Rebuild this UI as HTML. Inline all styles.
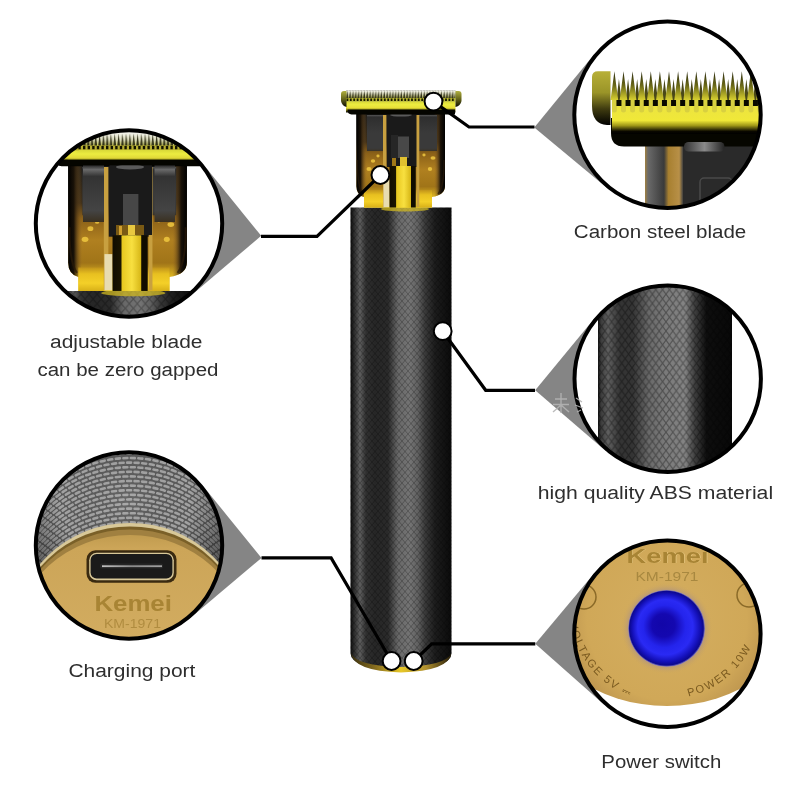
<!DOCTYPE html>
<html><head><meta charset="utf-8"><style>
html,body{margin:0;padding:0;background:#fff;width:800px;height:800px;overflow:hidden}
svg{display:block;will-change:transform}
text{font-family:"Liberation Sans",sans-serif}
</style></head><body>
<svg width="800" height="800" viewBox="0 0 800 800">
<defs>
<clipPath id="cTL"><circle cx="129" cy="223.5" r="93.2"/></clipPath>
<clipPath id="cBL"><circle cx="129" cy="545.5" r="93.2"/></clipPath>
<clipPath id="cTR"><circle cx="667.5" cy="114.7" r="93.2"/></clipPath>
<clipPath id="cMR"><circle cx="667.7" cy="378.8" r="93.2"/></clipPath>
<clipPath id="cBR"><circle cx="667.4" cy="633.8" r="93.2"/></clipPath>
<linearGradient id="gBody" x1="350" x2="452" y1="0" y2="0" gradientUnits="userSpaceOnUse">
<stop offset="0" stop-color="#050505"/>
<stop offset="0.02" stop-color="#1a1a1a"/>
<stop offset="0.098" stop-color="#5e5e5e"/>
<stop offset="0.157" stop-color="#303030"/>
<stop offset="0.245" stop-color="#262626"/>
<stop offset="0.373" stop-color="#2a2a2a"/>
<stop offset="0.471" stop-color="#686868"/>
<stop offset="0.588" stop-color="#747474"/>
<stop offset="0.667" stop-color="#606060"/>
<stop offset="0.735" stop-color="#3a3a3a"/>
<stop offset="0.833" stop-color="#1c1c1c"/>
<stop offset="1" stop-color="#0a0a0a"/>
</linearGradient>
<pattern id="knurl" width="6" height="7" patternUnits="userSpaceOnUse">
<path d="M0,0 L6,7 M6,0 L0,7" stroke="#000" stroke-opacity="0.28" stroke-width="0.9"/>
</pattern>
<linearGradient id="gFrame" x1="0" x2="0" y1="114" y2="207" gradientUnits="userSpaceOnUse">
<stop offset="0" stop-color="#1a1a1a"/>
<stop offset="0.3" stop-color="#3a2c18"/>
<stop offset="0.42" stop-color="#8a6018"/>
<stop offset="0.6" stop-color="#b08020"/>
<stop offset="0.78" stop-color="#a07418"/>
<stop offset="0.88" stop-color="#d8b020"/>
<stop offset="1" stop-color="#f0d020"/>
</linearGradient>
<linearGradient id="gCyl" x1="389.5" x2="415.75" y1="0" y2="0" gradientUnits="userSpaceOnUse">
<stop offset="0" stop-color="#100c00"/>
<stop offset="0.24" stop-color="#1a1400"/>
<stop offset="0.27" stop-color="#e8c820"/>
<stop offset="0.55" stop-color="#f8e040"/>
<stop offset="0.8" stop-color="#d8b818"/>
<stop offset="0.83" stop-color="#100c00"/>
<stop offset="1" stop-color="#100c00"/>
</linearGradient>
<linearGradient id="gCap" x1="0" x2="0" y1="91" y2="108" gradientUnits="userSpaceOnUse">
<stop offset="0" stop-color="#b0b040"/>
<stop offset="0.5" stop-color="#606018"/>
<stop offset="1" stop-color="#000"/>
</linearGradient>
<linearGradient id="gColL" x1="0" x2="0" y1="114" y2="152" gradientUnits="userSpaceOnUse">
<stop offset="0" stop-color="#6a6a6a"/><stop offset="0.08" stop-color="#2e2e2e"/><stop offset="0.5" stop-color="#3a3a3a"/><stop offset="0.9" stop-color="#3a3a3a"/><stop offset="1" stop-color="#3a3020"/>
</linearGradient>
<linearGradient id="gEdgeL" x1="356.4" x2="367" y1="0" y2="0" gradientUnits="userSpaceOnUse">
<stop offset="0" stop-color="#000"/><stop offset="0.4" stop-color="#1a1208"/><stop offset="1" stop-color="#9a6a28" stop-opacity="0"/>
</linearGradient>
<linearGradient id="gEdgeR" x1="445" x2="434" y1="0" y2="0" gradientUnits="userSpaceOnUse">
<stop offset="0" stop-color="#000"/><stop offset="0.4" stop-color="#1a1208"/><stop offset="1" stop-color="#9a6a28" stop-opacity="0"/>
</linearGradient>
<linearGradient id="gLeg" x1="0" x2="0" y1="188" y2="207.5" gradientUnits="userSpaceOnUse">
<stop offset="0" stop-color="#b08018"/><stop offset="0.35" stop-color="#e8c020"/><stop offset="0.7" stop-color="#f4d028"/><stop offset="1" stop-color="#d8b018"/>
</linearGradient>
<linearGradient id="gMR" x1="598" x2="732" y1="0" y2="0" gradientUnits="userSpaceOnUse">
<stop offset="0" stop-color="#141414"/>
<stop offset="0.022" stop-color="#3a3a3a"/>
<stop offset="0.075" stop-color="#606060"/>
<stop offset="0.164" stop-color="#343434"/>
<stop offset="0.26" stop-color="#343434"/>
<stop offset="0.38" stop-color="#6a6a6a"/>
<stop offset="0.5" stop-color="#7a7a7a"/>
<stop offset="0.649" stop-color="#848484"/>
<stop offset="0.72" stop-color="#404040"/>
<stop offset="0.81" stop-color="#0e0e0e"/>
<stop offset="1" stop-color="#080808"/>
</linearGradient>
<pattern id="knurl2" width="6.8" height="9.2" patternUnits="userSpaceOnUse" x="598" y="285">
<path d="M0,0 L6.8,9.2 M6.8,0 L0,9.2" stroke="#000" stroke-opacity="0.35" stroke-width="1.1"/>
</pattern>
<linearGradient id="gBarTR" x1="0" x2="0" y1="100" y2="134" gradientUnits="userSpaceOnUse">
<stop offset="0" stop-color="#d8d030"/>
<stop offset="0.2" stop-color="#ece440"/>
<stop offset="0.6" stop-color="#f0e838"/>
<stop offset="0.75" stop-color="#a09818"/>
<stop offset="0.92" stop-color="#0a0800"/>
<stop offset="1" stop-color="#000"/>
</linearGradient>
<linearGradient id="gCapTR" x1="0" x2="0" y1="71" y2="125" gradientUnits="userSpaceOnUse">
<stop offset="0" stop-color="#b8b038"/>
<stop offset="0.4" stop-color="#9a9428"/>
<stop offset="0.7" stop-color="#403c10"/>
<stop offset="1" stop-color="#000"/>
</linearGradient>
<linearGradient id="gToothTR" x1="0" x2="0" y1="71" y2="100" gradientUnits="userSpaceOnUse">
<stop offset="0" stop-color="#2a2a10"/>
<stop offset="0.5" stop-color="#6a6818"/>
<stop offset="1" stop-color="#d8d030"/>
</linearGradient>
<linearGradient id="gStripTR" x1="645" x2="683" y1="0" y2="0" gradientUnits="userSpaceOnUse">
<stop offset="0" stop-color="#a08040"/>
<stop offset="0.08" stop-color="#6a6a6a"/>
<stop offset="0.5" stop-color="#3a3a3a"/>
<stop offset="0.62" stop-color="#a88030"/>
<stop offset="0.9" stop-color="#b89048"/>
<stop offset="1" stop-color="#404040"/>
</linearGradient>
<linearGradient id="gCapsule" x1="684" x2="725" y1="0" y2="0" gradientUnits="userSpaceOnUse">
<stop offset="0" stop-color="#333"/><stop offset="0.5" stop-color="#8a8a8a"/><stop offset="1" stop-color="#222"/>
</linearGradient>
<radialGradient id="gKnurlBL" cx="125" cy="480" r="120" gradientUnits="userSpaceOnUse">
<stop offset="0" stop-color="#7a7a7a"/>
<stop offset="0.55" stop-color="#6e6e6e"/>
<stop offset="1" stop-color="#3a3a3a"/>
</radialGradient>
<pattern id="weave" width="7" height="8.4" patternUnits="userSpaceOnUse" x="0" y="0">
<ellipse cx="3.5" cy="2.1" rx="2.9" ry="1.5" fill="#d0d0d0" fill-opacity="0.6"/>
<ellipse cx="0" cy="6.3" rx="2.9" ry="1.5" fill="#d0d0d0" fill-opacity="0.6"/>
<ellipse cx="7" cy="6.3" rx="2.9" ry="1.5" fill="#d0d0d0" fill-opacity="0.6"/>
</pattern>
<linearGradient id="gGoldBL" x1="0" x2="0" y1="525" y2="640" gradientUnits="userSpaceOnUse">
<stop offset="0" stop-color="#b89448"/>
<stop offset="0.2" stop-color="#cca558"/>
<stop offset="1" stop-color="#d2ac60"/>
</linearGradient>
<radialGradient id="gGoldBR" cx="667" cy="620" r="100" gradientUnits="userSpaceOnUse">
<stop offset="0" stop-color="#d4ae60"/>
<stop offset="0.8" stop-color="#d0a858"/>
<stop offset="1" stop-color="#c09850"/>
</radialGradient>
<radialGradient id="gBlue" cx="666.6" cy="628.4" r="38.4" fx="662" fy="624" gradientUnits="userSpaceOnUse">
<stop offset="0" stop-color="#1206a8"/>
<stop offset="0.3" stop-color="#1408b0"/>
<stop offset="0.55" stop-color="#2424ec"/>
<stop offset="0.72" stop-color="#2a2af4"/>
<stop offset="0.88" stop-color="#1410b8"/>
<stop offset="0.96" stop-color="#0c0890"/>
<stop offset="1" stop-color="#8a80c0"/>
</radialGradient>
<radialGradient id="gGlow" cx="666.6" cy="628.4" r="46" gradientUnits="userSpaceOnUse">
<stop offset="0.8" stop-color="#a08a90" stop-opacity="0.7"/>
<stop offset="1" stop-color="#d0a858" stop-opacity="0"/>
</radialGradient>
<pattern id="teethP" width="2.85" height="8" patternUnits="userSpaceOnUse" x="346" y="90.5">
<path d="M0,8 L1.2,0.3 L2.4,8 Z" fill="#303018"/>
</pattern>
<linearGradient id="gTeethBg" x1="0" x2="0" y1="90.5" y2="98.5" gradientUnits="userSpaceOnUse">
<stop offset="0" stop-color="#f4f4ec"/><stop offset="0.5" stop-color="#d0d0b0"/><stop offset="1" stop-color="#c8c850"/>
</linearGradient>
<linearGradient id="gBarMain" x1="0" x2="0" y1="101.5" y2="114" gradientUnits="userSpaceOnUse">
<stop offset="0" stop-color="#d8d838"/><stop offset="0.25" stop-color="#ecec40"/><stop offset="0.5" stop-color="#e8e038"/><stop offset="0.68" stop-color="#8a8418"/><stop offset="0.85" stop-color="#0a0800"/><stop offset="1" stop-color="#000"/>
</linearGradient>
<linearGradient id="gSlot" x1="102" x2="162" y1="0" y2="0" gradientUnits="userSpaceOnUse">
<stop offset="0" stop-color="#c0c0c0"/><stop offset="0.5" stop-color="#8a8a8a"/><stop offset="1" stop-color="#a0a0a0"/>
</linearGradient>
<linearGradient id="gColTL" x1="0" x2="0" y1="165" y2="222" gradientUnits="userSpaceOnUse">
<stop offset="0" stop-color="#202020"/><stop offset="0.08" stop-color="#6a6a6a"/><stop offset="0.2" stop-color="#333"/><stop offset="0.8" stop-color="#444"/><stop offset="1" stop-color="#3a3020"/>
</linearGradient>
<pattern id="teethTL" width="3.8" height="13" patternUnits="userSpaceOnUse" x="60" y="133">
<path d="M0.2,13 L1.6,0.5 L3.0,13 Z" fill="#303018"/>
</pattern>
<linearGradient id="gTeethBgTL" x1="0" x2="0" y1="133" y2="146" gradientUnits="userSpaceOnUse">
<stop offset="0" stop-color="#f4f4ec"/><stop offset="0.55" stop-color="#d8d8b8"/><stop offset="1" stop-color="#c8c850"/>
</linearGradient>
<linearGradient id="gBarTL" x1="0" x2="0" y1="150" y2="160" gradientUnits="userSpaceOnUse">
<stop offset="0" stop-color="#d8d838"/><stop offset="0.4" stop-color="#ecec40"/><stop offset="0.8" stop-color="#e0d838"/><stop offset="1" stop-color="#8a8418"/>
</linearGradient>
<linearGradient id="gRim" x1="351" x2="451" y1="0" y2="0" gradientUnits="userSpaceOnUse">
<stop offset="0" stop-color="#3a3010"/><stop offset="0.25" stop-color="#8a7020"/><stop offset="0.5" stop-color="#e8c828"/><stop offset="0.75" stop-color="#b09030"/><stop offset="1" stop-color="#2a2008"/>
</linearGradient>
<radialGradient id="gShadeBL" cx="125" cy="500" r="110" gradientUnits="userSpaceOnUse">
<stop offset="0" stop-color="#fff" stop-opacity="0.08"/>
<stop offset="0.6" stop-color="#000" stop-opacity="0"/>
<stop offset="1" stop-color="#000" stop-opacity="0.45"/>
</radialGradient>

</defs>
<rect width="800" height="800" fill="#fff"/>
<g fill="#858585">
<polygon points="261.2,235.8 202.8,163.7 129,223.5 190.5,295.9"/>
<polygon points="261.5,557.9 202.7,485.6 129,545.5 190.3,618.1"/>
<polygon points="534.3,127.5 594.0,54.6 667.5,114.7 606.8,187.7"/>
<polygon points="535.2,390.3 594.3,318.4 667.7,378.8 605.8,450.9"/>
<polygon points="535.3,643.8 594.5,572.9 667.4,633.8 604.5,705.0"/>
</g>
<g id="trimmer">
<path d="M350.5,207.5 H451.5 V653 Q451.5,669 401,669 Q350.5,669 350.5,653 Z" fill="url(#gBody)"/>
<path d="M350.5,207.5 H451.5 V653 Q451.5,669 401,669 Q350.5,669 350.5,653 Z" fill="url(#knurl)"/>
<path d="M351,653 Q353,671 401,672.5 Q449,671 451.5,653 Q446,666 401,667 Q356,666 351,653 Z" fill="url(#gRim)"/>
<ellipse cx="405" cy="209" rx="24" ry="2.5" fill="#d0b820" opacity="0.75"/>
<path d="M356.4,114 H445 V186 Q445,195 432,197 V207.5 H364 V197 Q356.4,195 356.4,186 Z" fill="url(#gFrame)"/>
<path d="M356.4,114 H367 V186 L364,197 Q356.4,195 356.4,186 Z" fill="url(#gEdgeL)"/>
<path d="M445,114 H434 V186 L432,197 Q445,195 445,186 Z" fill="url(#gEdgeR)"/>
<rect x="367" y="115" width="16" height="36" fill="url(#gColL)"/>
<rect x="419" y="115" width="18" height="36" fill="url(#gColL)"/>
<rect x="386.6" y="114" width="30.4" height="53" fill="#1a1a1a"/>
<rect x="391" y="135" width="7" height="23" fill="#262626"/>
<rect x="398" y="136.5" width="11" height="21.5" fill="#484848"/>
<ellipse cx="401" cy="115" rx="11" ry="1.6" fill="#5a5a5a"/>
<g fill="#f0c840" opacity="0.85">
<ellipse cx="373" cy="161" rx="2.2" ry="1.8"/>
<ellipse cx="369" cy="169" rx="2.5" ry="2"/>
<ellipse cx="378" cy="156" rx="1.6" ry="1.4"/>
<ellipse cx="433" cy="158" rx="2.5" ry="1.8"/>
<ellipse cx="430" cy="169" rx="2.2" ry="2"/>
<ellipse cx="424" cy="155" rx="1.6" ry="1.4"/>
</g>
<path d="M357.5,160 Q357,186 363,194" fill="none" stroke="#2a1a08" stroke-width="1.5" opacity="0.7"/>
<path d="M444,160 Q444.5,186 438,194" fill="none" stroke="#2a1a08" stroke-width="1.5" opacity="0.7"/>
<rect x="364" y="190" width="19" height="17.5" fill="url(#gLeg)"/>
<rect x="416" y="190" width="16" height="17.5" fill="url(#gLeg)"/>
<rect x="383" y="115" width="3.4" height="92" fill="#c8a040"/>
<rect x="383.5" y="180" width="6" height="27" fill="#e8dcb0"/>
<rect x="416.5" y="115" width="2.8" height="92" fill="#c8a040"/>
<rect x="392" y="158" width="4" height="8" fill="#a07818"/>
<rect x="400" y="157" width="7" height="9" fill="#e0c030"/>
<rect x="389.5" y="166" width="26.25" height="41.5" fill="url(#gCyl)"/>
<rect x="346" y="101.5" width="109.5" height="11" fill="url(#gBarMain)"/>
<path d="M347.5,109.5 H455 V114.5 H351.5 Q347.5,114 347.5,110 Z" fill="#050500"/>
<rect x="346" y="90.5" width="109.5" height="8" fill="url(#gTeethBg)"/>
<rect x="346" y="90.5" width="109.5" height="8" fill="url(#teethP)"/>
<rect x="346" y="98" width="109.5" height="3.8" fill="#b8b830"/>
<path d="M346.50,98.6 h1.8 v2.4 h-1.8 Z M349.90,98.6 h1.8 v2.4 h-1.8 Z M353.30,98.6 h1.8 v2.4 h-1.8 Z M356.70,98.6 h1.8 v2.4 h-1.8 Z M360.10,98.6 h1.8 v2.4 h-1.8 Z M363.50,98.6 h1.8 v2.4 h-1.8 Z M366.90,98.6 h1.8 v2.4 h-1.8 Z M370.30,98.6 h1.8 v2.4 h-1.8 Z M373.70,98.6 h1.8 v2.4 h-1.8 Z M377.10,98.6 h1.8 v2.4 h-1.8 Z M380.50,98.6 h1.8 v2.4 h-1.8 Z M383.90,98.6 h1.8 v2.4 h-1.8 Z M387.30,98.6 h1.8 v2.4 h-1.8 Z M390.70,98.6 h1.8 v2.4 h-1.8 Z M394.10,98.6 h1.8 v2.4 h-1.8 Z M397.50,98.6 h1.8 v2.4 h-1.8 Z M400.90,98.6 h1.8 v2.4 h-1.8 Z M404.30,98.6 h1.8 v2.4 h-1.8 Z M407.70,98.6 h1.8 v2.4 h-1.8 Z M411.10,98.6 h1.8 v2.4 h-1.8 Z M414.50,98.6 h1.8 v2.4 h-1.8 Z M417.90,98.6 h1.8 v2.4 h-1.8 Z M421.30,98.6 h1.8 v2.4 h-1.8 Z M424.70,98.6 h1.8 v2.4 h-1.8 Z M428.10,98.6 h1.8 v2.4 h-1.8 Z M431.50,98.6 h1.8 v2.4 h-1.8 Z M434.90,98.6 h1.8 v2.4 h-1.8 Z M438.30,98.6 h1.8 v2.4 h-1.8 Z M441.70,98.6 h1.8 v2.4 h-1.8 Z M445.10,98.6 h1.8 v2.4 h-1.8 Z M448.50,98.6 h1.8 v2.4 h-1.8 Z M451.90,98.6 h1.8 v2.4 h-1.8 Z " fill="#1a1a00"/>
<path d="M341,94 Q341,91 344,91 H346.5 V107 Q342,106 341,101 Z" fill="url(#gCap)"/>
<path d="M461.5,94 Q461.5,91 458.5,91 H455.5 V107 Q460.5,106 461.5,101 Z" fill="url(#gCap)"/>
</g>
<g fill="none" stroke="#000" stroke-width="3.2" stroke-linejoin="miter">
<polyline points="261,236.3 317,236.3 380.4,175"/>
<polyline points="534.5,127 469,127 433.5,101.6"/>
<polyline points="535,390.3 485.7,390.3 442.7,331.2"/>
<polyline points="261.5,557.9 331.1,557.9 391.4,661"/>
<polyline points="535.3,643.8 431.8,643.8 413.7,661"/>
</g>
<g fill="#fff" stroke="#000" stroke-width="2">
<circle cx="380.4" cy="175" r="8.9"/>
<circle cx="433.5" cy="101.6" r="8.9"/>
<circle cx="442.7" cy="331.2" r="8.9"/>
<circle cx="391.6" cy="661" r="8.9"/>
<circle cx="413.7" cy="661" r="8.9"/>
</g>
<g clip-path="url(#cTL)">
<rect x="30" y="125" width="200" height="200" fill="#fff"/>
<use href="#trimmer" transform="translate(-409.4,12.9) scale(1.34)"/>
<rect x="83" y="165" width="21" height="57" fill="url(#gColTL)"/>
<rect x="154.5" y="165" width="20.5" height="57" fill="url(#gColTL)"/>
<rect x="109.5" y="165" width="42.5" height="70" fill="#1a1a1a"/>
<ellipse cx="130" cy="167" rx="14" ry="2.5" fill="#5a5a5a"/>
<rect x="123" y="194" width="15.4" height="31" fill="#474747"/>
<rect x="116" y="225" width="28" height="10" fill="#7a5a14"/>
<rect x="128" y="225" width="7" height="10" fill="#e8c840"/>
<rect x="119" y="226" width="3" height="9" fill="#d0a030"/>
<rect x="20" y="128" width="220" height="18" fill="url(#gTeethBgTL)"/>
<rect x="20" y="133" width="220" height="13" fill="url(#teethTL)"/>
<rect x="20" y="145.5" width="220" height="5" fill="#b8b030"/>
<path d="M60.00,146 h2.4 v3.2 h-2.4 Z M64.60,146 h2.4 v3.2 h-2.4 Z M69.20,146 h2.4 v3.2 h-2.4 Z M73.80,146 h2.4 v3.2 h-2.4 Z M78.40,146 h2.4 v3.2 h-2.4 Z M83.00,146 h2.4 v3.2 h-2.4 Z M87.60,146 h2.4 v3.2 h-2.4 Z M92.20,146 h2.4 v3.2 h-2.4 Z M96.80,146 h2.4 v3.2 h-2.4 Z M101.40,146 h2.4 v3.2 h-2.4 Z M106.00,146 h2.4 v3.2 h-2.4 Z M110.60,146 h2.4 v3.2 h-2.4 Z M115.20,146 h2.4 v3.2 h-2.4 Z M119.80,146 h2.4 v3.2 h-2.4 Z M124.40,146 h2.4 v3.2 h-2.4 Z M129.00,146 h2.4 v3.2 h-2.4 Z M133.60,146 h2.4 v3.2 h-2.4 Z M138.20,146 h2.4 v3.2 h-2.4 Z M142.80,146 h2.4 v3.2 h-2.4 Z M147.40,146 h2.4 v3.2 h-2.4 Z M152.00,146 h2.4 v3.2 h-2.4 Z M156.60,146 h2.4 v3.2 h-2.4 Z M161.20,146 h2.4 v3.2 h-2.4 Z M165.80,146 h2.4 v3.2 h-2.4 Z M170.40,146 h2.4 v3.2 h-2.4 Z M175.00,146 h2.4 v3.2 h-2.4 Z M179.60,146 h2.4 v3.2 h-2.4 Z M184.20,146 h2.4 v3.2 h-2.4 Z M188.80,146 h2.4 v3.2 h-2.4 Z M193.40,146 h2.4 v3.2 h-2.4 Z M198.00,146 h2.4 v3.2 h-2.4 Z " fill="#141400"/>
<path d="M79.4,150 H184.4 L192.8,159.8 H67.2 Z" fill="url(#gBarTL)"/>
<rect x="58.7" y="159.7" width="138.8" height="5.6" fill="#050500"/>
</g>
<g clip-path="url(#cTR)">
<rect x="570" y="15" width="200" height="200" fill="#fff"/>
<rect x="682.5" y="140" width="90" height="75" fill="#2a2a2a"/>
<rect x="645" y="140" width="38" height="75" fill="url(#gStripTR)"/>
<rect x="700" y="178" width="32" height="30" rx="4" fill="none" stroke="#4a4a4a" stroke-width="1.5"/>
<path d="M611,118 H780 V146.5 H624 Q611,146.5 611,133 Z" fill="#060600"/>
<rect x="684" y="142" width="40.5" height="9.5" rx="4.5" fill="url(#gCapsule)"/>
<rect x="612" y="100" width="170" height="34" fill="url(#gBarTR)"/>
<path d="M611.90,100 h5 v10 a2.5,2.5 0 0 1 -5,0 Z M621.00,100 h5 v10 a2.5,2.5 0 0 1 -5,0 Z M630.10,100 h5 v10 a2.5,2.5 0 0 1 -5,0 Z M639.20,100 h5 v10 a2.5,2.5 0 0 1 -5,0 Z M648.30,100 h5 v10 a2.5,2.5 0 0 1 -5,0 Z M657.40,100 h5 v10 a2.5,2.5 0 0 1 -5,0 Z M666.50,100 h5 v10 a2.5,2.5 0 0 1 -5,0 Z M675.60,100 h5 v10 a2.5,2.5 0 0 1 -5,0 Z M684.70,100 h5 v10 a2.5,2.5 0 0 1 -5,0 Z M693.80,100 h5 v10 a2.5,2.5 0 0 1 -5,0 Z M702.90,100 h5 v10 a2.5,2.5 0 0 1 -5,0 Z M712.00,100 h5 v10 a2.5,2.5 0 0 1 -5,0 Z M721.10,100 h5 v10 a2.5,2.5 0 0 1 -5,0 Z M730.20,100 h5 v10 a2.5,2.5 0 0 1 -5,0 Z M739.30,100 h5 v10 a2.5,2.5 0 0 1 -5,0 Z M748.40,100 h5 v10 a2.5,2.5 0 0 1 -5,0 Z M757.50,100 h5 v10 a2.5,2.5 0 0 1 -5,0 Z M766.60,100 h5 v10 a2.5,2.5 0 0 1 -5,0 Z " fill="#d8d040"/>
<path d="M616.45,100 h5 v6 h-5 Z M625.55,100 h5 v6 h-5 Z M634.65,100 h5 v6 h-5 Z M643.75,100 h5 v6 h-5 Z M652.85,100 h5 v6 h-5 Z M661.95,100 h5 v6 h-5 Z M671.05,100 h5 v6 h-5 Z M680.15,100 h5 v6 h-5 Z M689.25,100 h5 v6 h-5 Z M698.35,100 h5 v6 h-5 Z M707.45,100 h5 v6 h-5 Z M716.55,100 h5 v6 h-5 Z M725.65,100 h5 v6 h-5 Z M734.75,100 h5 v6 h-5 Z M743.85,100 h5 v6 h-5 Z M752.95,100 h5 v6 h-5 Z M762.05,100 h5 v6 h-5 Z M771.15,100 h5 v6 h-5 Z " fill="#0a0a00"/>
<path d="M616.45,100 L618.95,79 L621.45,100 Z M625.55,100 L628.05,79 L630.55,100 Z M634.65,100 L637.15,79 L639.65,100 Z M643.75,100 L646.25,79 L648.75,100 Z M652.85,100 L655.35,79 L657.85,100 Z M661.95,100 L664.45,79 L666.95,100 Z M671.05,100 L673.55,79 L676.05,100 Z M680.15,100 L682.65,79 L685.15,100 Z M689.25,100 L691.75,79 L694.25,100 Z M698.35,100 L700.85,79 L703.35,100 Z M707.45,100 L709.95,79 L712.45,100 Z M716.55,100 L719.05,79 L721.55,100 Z M725.65,100 L728.15,79 L730.65,100 Z M734.75,100 L737.25,79 L739.75,100 Z M743.85,100 L746.35,79 L748.85,100 Z M752.95,100 L755.45,79 L757.95,100 Z M762.05,100 L764.55,79 L767.05,100 Z M771.15,100 L773.65,79 L776.15,100 Z " fill="#4a4818"/>
<path d="M610.60,100 L614.40,71.2 L618.20,100 Z M619.70,100 L623.50,71.2 L627.30,100 Z M628.80,100 L632.60,71.2 L636.40,100 Z M637.90,100 L641.70,71.2 L645.50,100 Z M647.00,100 L650.80,71.2 L654.60,100 Z M656.10,100 L659.90,71.2 L663.70,100 Z M665.20,100 L669.00,71.2 L672.80,100 Z M674.30,100 L678.10,71.2 L681.90,100 Z M683.40,100 L687.20,71.2 L691.00,100 Z M692.50,100 L696.30,71.2 L700.10,100 Z M701.60,100 L705.40,71.2 L709.20,100 Z M710.70,100 L714.50,71.2 L718.30,100 Z M719.80,100 L723.60,71.2 L727.40,100 Z M728.90,100 L732.70,71.2 L736.50,100 Z M738.00,100 L741.80,71.2 L745.60,100 Z M747.10,100 L750.90,71.2 L754.70,100 Z M756.20,100 L760.00,71.2 L763.80,100 Z M765.30,100 L769.10,71.2 L772.90,100 Z " fill="url(#gToothTR)"/>
<path d="M598,71.2 H610.5 V125 H607 Q592,124 592,106 V77 Q592,71.2 598,71.2 Z" fill="url(#gCapTR)"/>
</g>
<g clip-path="url(#cMR)">
<rect x="570" y="280" width="200" height="200" fill="#fff"/>
<rect x="598" y="280" width="134" height="200" fill="url(#gMR)"/>
<rect x="598" y="280" width="134" height="200" fill="url(#knurl2)"/>
</g>
<g clip-path="url(#cBL)">
<rect x="30" y="445" width="200" height="200" fill="#5a5a5a"/>
<g fill="none" stroke="#aaaaaa" stroke-width="2.6" stroke-dasharray="4 3.6" stroke-linecap="round" opacity="0.9">
<ellipse cx="130" cy="636.4" rx="118" ry="114" stroke-dashoffset="0.0"/>
<ellipse cx="130" cy="631.8" rx="118" ry="114" stroke-dashoffset="3.8"/>
<ellipse cx="130" cy="627.2" rx="118" ry="114" stroke-dashoffset="0.0"/>
<ellipse cx="130" cy="622.6" rx="118" ry="114" stroke-dashoffset="3.8"/>
<ellipse cx="130" cy="618.0" rx="118" ry="114" stroke-dashoffset="0.0"/>
<ellipse cx="130" cy="613.4" rx="118" ry="114" stroke-dashoffset="3.8"/>
<ellipse cx="130" cy="608.8" rx="118" ry="114" stroke-dashoffset="0.0"/>
<ellipse cx="130" cy="604.2" rx="118" ry="114" stroke-dashoffset="3.8"/>
<ellipse cx="130" cy="599.6" rx="118" ry="114" stroke-dashoffset="0.0"/>
<ellipse cx="130" cy="595.0" rx="118" ry="114" stroke-dashoffset="3.8"/>
<ellipse cx="130" cy="590.4" rx="118" ry="114" stroke-dashoffset="0.0"/>
<ellipse cx="130" cy="585.8" rx="118" ry="114" stroke-dashoffset="3.8"/>
<ellipse cx="130" cy="581.2" rx="118" ry="114" stroke-dashoffset="0.0"/>
<ellipse cx="130" cy="576.6" rx="118" ry="114" stroke-dashoffset="3.8"/>
<ellipse cx="130" cy="572.0" rx="118" ry="114" stroke-dashoffset="0.0"/>
<ellipse cx="130" cy="567.4" rx="118" ry="114" stroke-dashoffset="3.8"/>
<ellipse cx="130" cy="562.8" rx="118" ry="114" stroke-dashoffset="0.0"/>
<ellipse cx="130" cy="558.2" rx="118" ry="114" stroke-dashoffset="3.8"/>
<ellipse cx="130" cy="553.6" rx="118" ry="114" stroke-dashoffset="0.0"/>
<ellipse cx="130" cy="549.0" rx="118" ry="114" stroke-dashoffset="3.8"/>
<ellipse cx="130" cy="544.4" rx="118" ry="114" stroke-dashoffset="0.0"/>
<ellipse cx="130" cy="539.8" rx="118" ry="114" stroke-dashoffset="3.8"/>
<ellipse cx="130" cy="535.2" rx="118" ry="114" stroke-dashoffset="0.0"/>
<ellipse cx="130" cy="530.6" rx="118" ry="114" stroke-dashoffset="3.8"/>
<ellipse cx="130" cy="526.0" rx="118" ry="114" stroke-dashoffset="0.0"/>
<ellipse cx="130" cy="521.4" rx="118" ry="114" stroke-dashoffset="3.8"/>
<ellipse cx="130" cy="516.8" rx="118" ry="114" stroke-dashoffset="0.0"/>
<ellipse cx="130" cy="512.2" rx="118" ry="114" stroke-dashoffset="3.8"/>
<ellipse cx="130" cy="507.6" rx="118" ry="114" stroke-dashoffset="0.0"/>
<ellipse cx="130" cy="503.0" rx="118" ry="114" stroke-dashoffset="3.8"/>
</g>
<rect x="30" y="445" width="200" height="200" fill="url(#gShadeBL)"/>
<ellipse cx="130" cy="636.4" rx="117" ry="113.5" fill="#d8c898"/>
<ellipse cx="130" cy="637.4" rx="116" ry="111" fill="#7a6028"/>
<ellipse cx="130" cy="638.4" rx="115.5" ry="109" fill="#a08040"/>
<ellipse cx="130" cy="640" rx="115" ry="105" fill="url(#gGoldBL)"/>
<rect x="86.5" y="550.3" width="90" height="32.5" rx="9" fill="#3a2a10"/>
<rect x="89.2" y="552.7" width="84.6" height="27.6" rx="7.5" fill="#d8c898"/>
<rect x="90.6" y="554" width="81.8" height="24.4" rx="6" fill="#1a1a1a"/>
<rect x="100" y="563.5" width="63" height="5" rx="1.5" fill="#262626"/>
<rect x="102" y="565.3" width="60" height="1.8" fill="url(#gSlot)"/>
<text x="94.4" y="611" font-size="22" font-weight="bold" fill="#a88434" textLength="77.5" lengthAdjust="spacingAndGlyphs">Kemei</text>
<text x="104" y="628" font-size="12" fill="#b08c40" textLength="57" lengthAdjust="spacingAndGlyphs">KM-1971</text>
</g>
<g clip-path="url(#cBR)">
<rect x="570" y="535" width="200" height="200" fill="#fff"/>
<ellipse cx="667" cy="606" rx="130" ry="100" fill="url(#gGoldBR)"/>
<circle cx="666.6" cy="628.4" r="46" fill="url(#gGlow)"/>
<circle cx="666.6" cy="628.4" r="38.4" fill="url(#gBlue)"/>
<text x="627.3" y="563.3" font-size="20" font-weight="bold" fill="#e8c880" textLength="82" lengthAdjust="spacingAndGlyphs">Kemei</text>
<text x="626.5" y="562.5" font-size="20" font-weight="bold" fill="#a88434" textLength="82" lengthAdjust="spacingAndGlyphs">Kemei</text>
<text x="635.5" y="580.5" font-size="13.5" fill="#a88840" textLength="63" lengthAdjust="spacingAndGlyphs">KM-1971</text>
<path id="arcL" d="M569.0,618.8 A99,99 0 0 0 670.5,703.9" fill="none"/>
<path id="arcR" d="M686.5,696.9 A94,94 0 0 0 760.6,613.2" fill="none"/>
<text font-size="11" fill="#7a5a20" letter-spacing="1.8"><textPath href="#arcL" startOffset="4">VOLTAGE 5V ⎓</textPath></text>
<text font-size="11" fill="#7a5a20" letter-spacing="1.8"><textPath href="#arcR" startOffset="2">POWER 10W</textPath></text>
<circle cx="584" cy="597" r="12" fill="none" stroke="#8a6a28" stroke-width="1.5"/>
<circle cx="749" cy="595" r="12" fill="none" stroke="#8a6a28" stroke-width="1.5"/>
</g>
<g fill="none" stroke="#000" stroke-width="4">
<circle cx="129" cy="223.5" r="93.2"/>
<circle cx="129" cy="545.5" r="93.2"/>
<circle cx="667.5" cy="114.7" r="93.2"/>
<circle cx="667.7" cy="378.8" r="93.2"/>
<circle cx="667.4" cy="633.8" r="93.2"/>
</g>
<g stroke="#b4b4b4" stroke-width="1.4" fill="none" opacity="0.9">
<path d="M555,399 H567 M553,404.5 H569 M561,393 V413 M561,405 L553,412 M561,405 L569,412"/>
<path d="M576,398 L582,402 M575,405 L583,408 M577,412 L581,410" stroke-width="1.2"/>
</g>

<g font-size="18" fill="#2e2e2e">
<text x="50" y="347.5" textLength="152.5" lengthAdjust="spacingAndGlyphs">adjustable blade</text>
<text x="37.5" y="375.5" textLength="181" lengthAdjust="spacingAndGlyphs">can be zero gapped</text>
<text x="573.8" y="238" textLength="172.5" lengthAdjust="spacingAndGlyphs">Carbon steel blade</text>
<text x="537.8" y="499.4" textLength="235.3" lengthAdjust="spacingAndGlyphs">high quality ABS material</text>
<text x="68.4" y="677.1" textLength="127" lengthAdjust="spacingAndGlyphs">Charging port</text>
<text x="601.3" y="768.4" textLength="120" lengthAdjust="spacingAndGlyphs">Power switch</text>
</g>

</svg>
</body></html>
